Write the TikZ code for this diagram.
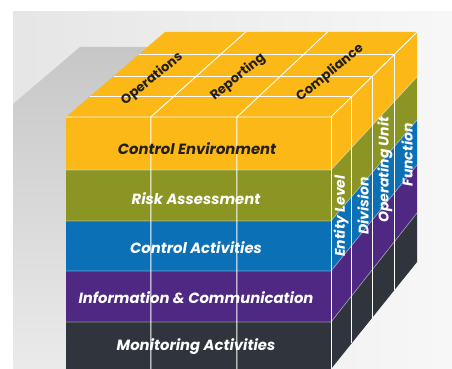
\documentclass[tikz,border=0pt]{standalone}
\usepackage{fontspec}
\setmainfont{Poppins}
\usepackage{tikz}
\usetikzlibrary{calc}

\definecolor{yellowC}{HTML}{FBB817}
\definecolor{greenC}{HTML}{8A9524}
\definecolor{blueC}{HTML}{0B70B5}
\definecolor{purpleC}{HTML}{4E2882}
\definecolor{darkC}{HTML}{30343C}
\definecolor{textdark}{HTML}{231F20}

\tikzset{
  gridline/.style={draw=white,line width=0.9pt},
  sepline/.style={draw=white,draw opacity=0.45,line width=0.7pt},
  frontlabel/.style={font=\bfseries\itshape\fontsize{14.8}{16}\selectfont,text=white},
  toplabel/.style={font=\bfseries\fontsize{13}{15}\selectfont,text=textdark,rotate=39},
  sidelabel/.style={font=\bfseries\itshape\fontsize{14}{16}\selectfont,text=white,rotate=90}
}

\begin{document}
\begin{tikzpicture}[x=1pt,y=-1pt]
\useasboundingbox (0,0) rectangle (452,369);
% backdrop
\fill[white] (0,0) rectangle (452,369);
\shade[left color=black!10,right color=black!3] (13,12) rectangle (452,369);
\shade[top color=black!22,bottom color=black!8] (80,47) -- (150,47) -- (66,117) -- (66,369) -- (13,369) -- (13,104) -- cycle;

% cube corners
\coordinate (FL) at (66,117);
\coordinate (FR) at (331,117);
\coordinate (BL) at (165,32);
\coordinate (BR) at (417,32);
\coordinate (FB) at (331,369);
\coordinate (BB) at (417,262);

% bands: front y / back y
\foreach \ya/\yb/\za/\zb/\col in {117/170/32/77/yellowC,170/221/77/120/greenC,221/271/120/165/blueC,271/322/165/213/purpleC,322/369/213/262/darkC}{
  \fill[\col] (66,\ya) rectangle (331,\yb);
  \fill[\col] (331,\ya) -- (417,\za) -- (417,\zb) -- (331,\yb) -- cycle;
}
\foreach \yb/\zb in {170/77,221/120,271/165,322/213}
  \draw[sepline] (66,\yb) -- (331,\yb) -- (417,\zb);
\fill[yellowC] (FL) -- (BL) -- (BR) -- (FR) -- cycle;

% grid
\foreach \t in {0.24,0.48,0.74}
  \draw[gridline] ($(FL)!\t!(BL)$) -- ($(FR)!\t!(BR)$) -- ($(FB)!\t!(BB)$);
\foreach \t in {0.32,0.645}
  \draw[gridline] ($(BL)!\t!(BR)$) -- ($(FL)!\t!(FR)$) -- ($(FL)!\t!(FR)+(0,252)$);
\draw[gridline] (FL) -- (FR) -- (BR);
\draw[gridline] (FR) -- (FB);

% objectives
\path (152,79) node (ops) [toplabel] {Operations};
\path (238,77) node (rep) [toplabel] {Reporting};
\path (330,73) node (comp) [toplabel] {Compliance};

% components
\path (197,149) node (ctrlenv) [frontlabel,text=textdark] {Control Environment};
\path (196,199) node (riskass) [frontlabel] {Risk Assessment};
\path (196,248) node (ctrlact) [frontlabel] {Control Activities};
\path (196,298) node (infocomm) [frontlabel] {Information \& Communication};
\path (196,347) node (monitor) [frontlabel] {Monitoring Activities};

% structure
\path (341,216) node (entity) [sidelabel] {Entity Level};
\path (363,206) node (division) [sidelabel] {Division};
\path (385,170) node (opunit) [sidelabel] {Operating Unit};
\path (407,155) node (function) [sidelabel] {Function};
\end{tikzpicture}
\end{document}
